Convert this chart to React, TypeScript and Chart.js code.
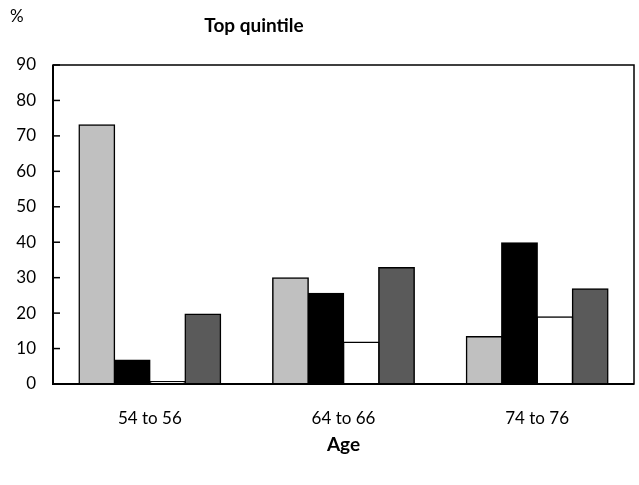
import React, { useEffect, useRef } from "react";
import { Chart, registerables } from "chart.js";

Chart.register(...registerables);

const categories = ["54 to 56", "64 to 66", "74 to 76"];
const seriesA = [73.1, 29.9, 13.3];
const seriesB = [6.7, 25.5, 39.8];
const seriesC = [0.6, 11.8, 18.9];
const seriesD = [19.7, 32.8, 26.8];
const yTicks = [0, 10, 20, 30, 40, 50, 60, 70, 80, 90];
const titleText = "Top quintile";
const unitText = "%";
const xTitle = "Age";

const FONT = "Lato, 'DejaVu Sans', sans-serif";

export default function App() {
  const ref = useRef<HTMLCanvasElement | null>(null);
  useEffect(() => {
    document.body.style.margin = "0";
    if (!ref.current) return;
    const framePlugin = {
      id: "frame",
      afterDraw(chart: any) {
        const { ctx, chartArea } = chart;
        const y = chart.scales.y;
        ctx.save();
        ctx.strokeStyle = "#000";
        ctx.lineWidth = 1.5;
        ctx.strokeRect(chartArea.left, chartArea.top, chartArea.right - chartArea.left, chartArea.bottom - chartArea.top);
        ctx.lineWidth = 2;
        ctx.beginPath();
        ctx.moveTo(chartArea.left, chartArea.top);
        ctx.lineTo(chartArea.left, chartArea.bottom);
        ctx.lineTo(chartArea.right, chartArea.bottom);
        ctx.stroke();
        ctx.lineWidth = 1.5;
        for (const v of yTicks) {
          const py = y.getPixelForValue(v);
          ctx.beginPath();
          ctx.moveTo(chartArea.left, py);
          ctx.lineTo(chartArea.left + 7, py);
          ctx.stroke();
        }
        ctx.fillStyle = "#000";
        ctx.textBaseline = "middle";
        ctx.textAlign = "left";
        ctx.font = `17px ${FONT}`;
        ctx.fillText(unitText, 10, 17);
        ctx.textAlign = "center";
        ctx.font = `bold 19px ${FONT}`;
        ctx.fillText(titleText, 254, 26);
        ctx.restore();
      },
    };
    const mk = (label: string, data: number[], bg: string) => ({
      label,
      data,
      backgroundColor: bg,
      borderColor: "#000",
      borderWidth: 1.5,
      borderSkipped: false,
      inflateAmount: 0.75,
      categoryPercentage: 0.73,
      barPercentage: 1,
    });
    const chart = new Chart(ref.current, {
      type: "bar",
      data: {
        labels: categories,
        datasets: [
          mk("A", seriesA, "#c0c0c0"),
          mk("B", seriesB, "#000000"),
          mk("C", seriesC, "#ffffff"),
          mk("D", seriesD, "#5a5a5a"),
        ],
      },
      options: {
        animation: false,
        responsive: false,
        layout: { padding: { top: 65, right: 5, left: 0, bottom: 0 } },
        plugins: { legend: { display: false }, tooltip: { enabled: false }, title: { display: false } },
        scales: {
          x: {
            grid: { display: false, drawTicks: false },
            border: { display: false },
            ticks: { color: "#000", font: { family: FONT, size: 17 }, padding: 24 },
            title: { display: true, text: xTitle, color: "#000", font: { family: FONT, size: 19, weight: "bold" }, padding: { top: 0, bottom: 29 } },
            afterFit(scale: any) { scale.height = 101; },
          },
          y: {
            min: 0,
            max: 90,
            grid: { display: false, drawTicks: false },
            border: { display: false },
            ticks: { stepSize: 10, color: "#000", font: { family: FONT, size: 17 }, padding: 17 },
            afterFit(scale: any) { scale.width = 53; },
          },
        },
      },
      plugins: [framePlugin],
    } as any);
    return () => chart.destroy();
  }, []);
  return (
    <div style={{ width: 639, height: 485 }}>
      <canvas ref={ref} width={639} height={485} style={{ width: 639, height: 485 }} />
    </div>
  );
}
